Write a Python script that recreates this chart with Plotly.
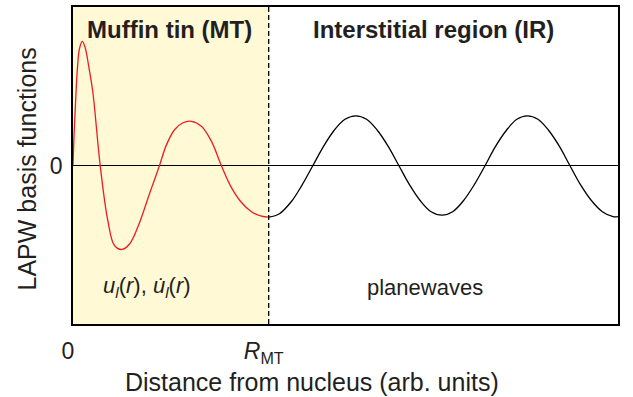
import plotly.graph_objects as go

# Red curve (muffin-tin radial function)
red_x = [0, 0.005, 0.0128, 0.023, 0.033, 0.047, 0.061, 0.081, 0.101, 0.139,
         0.178, 0.212, 0.250, 0.289, 0.331, 0.360, 0.390, 0.416, 0.442, 0.477, 0.519,
         0.562, 0.605, 0.656, 0.707, 0.758, 0.809, 0.860, 0.912, 0.963, 1.0]
red_y = [0, 0.59, 1.25, 1.98, 2.35, 2.50, 2.39, 1.98, 1.49, 0,
         -1.11, -1.61, -1.69, -1.58, -1.24, -0.93, -0.58, -0.29, 0, 0.41, 0.72,
         0.86, 0.89, 0.79, 0.49, 0, -0.44, -0.74, -0.93, -1.02, -1.04]

# Black curve (plane wave in the interstitial region)
black_x = [1.0, 1.055, 1.117, 1.171, 1.226, 1.281, 1.335, 1.390, 1.445, 1.500,
           1.555, 1.610, 1.665, 1.720, 1.775, 1.830, 1.885, 1.940, 1.995, 2.050,
           2.106, 2.160, 2.215, 2.268, 2.322, 2.376, 2.430, 2.485, 2.539, 2.594,
           2.650, 2.705, 2.760, 2.785]
black_y = [-1.04, -0.97, -0.72, -0.39, 0, 0.39, 0.71, 0.93, 1.0, 0.93,
           0.71, 0.39, 0, -0.39, -0.71, -0.93, -1.0, -0.93, -0.71, -0.39,
           0, 0.39, 0.71, 0.93, 1.0, 0.93, 0.71, 0.39, 0, -0.39,
           -0.71, -0.93, -1.03, -1.03]

x_tick_vals = [0, 1.0]
x_tick_text = ["0", "<i>R</i><sub>MT</sub>"]
y_tick_vals = [0]
y_tick_text = ["0"]

r_mt = 1.0
x_max = 2.785
y_lim = 3.19

FONT = "Liberation Sans, Arial, sans-serif"
TXT = "#231f20"

fig = go.Figure()
fig.add_trace(go.Scatter(x=red_x, y=red_y, mode="lines",
                         line=dict(color="#ed1c24", width=1.3, shape="spline", smoothing=1),
                         hoverinfo="skip"))
fig.add_trace(go.Scatter(x=black_x, y=black_y, mode="lines",
                         line=dict(color="black", width=1.3, shape="spline", smoothing=1),
                         hoverinfo="skip"))

# Muffin-tin shaded region
fig.add_shape(type="rect", xref="x", yref="y", x0=0, x1=r_mt, y0=-y_lim, y1=y_lim,
              fillcolor="#fff9d6", line=dict(width=0), layer="below")
# Dashed boundary
fig.add_shape(type="line", xref="x", yref="y", x0=r_mt, x1=r_mt, y0=-y_lim, y1=y_lim,
              line=dict(color="black", width=1.3, dash="5px,3px"))

fig.add_annotation(x=0.494, y=2.74, text="<b>Muffin tin (MT)</b>", showarrow=False,
                   font=dict(family=FONT, size=24, color=TXT))
fig.add_annotation(x=1.841, y=2.74, text="<b>Interstitial region (IR)</b>", showarrow=False,
                   font=dict(family=FONT, size=24, color=TXT))
fig.add_annotation(x=0.376, y=-2.45,
                   text="<i>u</i><sub><i>l</i></sub>(<i>r</i>), <i>u\u0307</i><sub><i>l</i></sub>(<i>r</i>)",
                   showarrow=False, font=dict(family=FONT, size=22, color=TXT))
fig.add_annotation(x=1.80, y=-2.45, text="planewaves", showarrow=False,
                   font=dict(family=FONT, size=22, color=TXT))

# Axis titles
fig.add_annotation(xref="paper", yref="paper", x=0.4385, y=-0.182,
                   xanchor="center", yanchor="middle",
                   text="Distance from nucleus (arb. units)", showarrow=False,
                   font=dict(family=FONT, size=25, color=TXT))
fig.add_annotation(xref="paper", yref="paper", x=-0.0844, y=0.4875,
                   xanchor="center", yanchor="middle", textangle=-90,
                   text="LAPW basis functions", showarrow=False,
                   font=dict(family=FONT, size=25, color=TXT))

fig.update_layout(
    width=633, height=397,
    margin=dict(l=73, r=15, t=5, b=73),
    plot_bgcolor="white", paper_bgcolor="white",
    showlegend=False,
    font=dict(family=FONT, size=22, color=TXT),
    xaxis=dict(range=[0, x_max], tickvals=x_tick_vals, ticktext=x_tick_text,
               showgrid=False, zeroline=False, showline=True, mirror=True,
               linecolor="black", linewidth=1.5,
               ticks="outside", ticklen=6, tickcolor="rgba(0,0,0,0)",
               ticklabelshift=-5,
               tickfont=dict(family=FONT, size=23, color=TXT)),
    yaxis=dict(range=[-y_lim, y_lim], tickvals=y_tick_vals, ticktext=y_tick_text,
               showgrid=False, zeroline=True, zerolinecolor="black", zerolinewidth=1.2,
               showline=True, mirror=True, linecolor="black", linewidth=1.5,
               ticks="outside", ticklen=4, tickcolor="rgba(0,0,0,0)",
               tickfont=dict(family=FONT, size=23, color=TXT)),
)

fig.write_html("out.html")
